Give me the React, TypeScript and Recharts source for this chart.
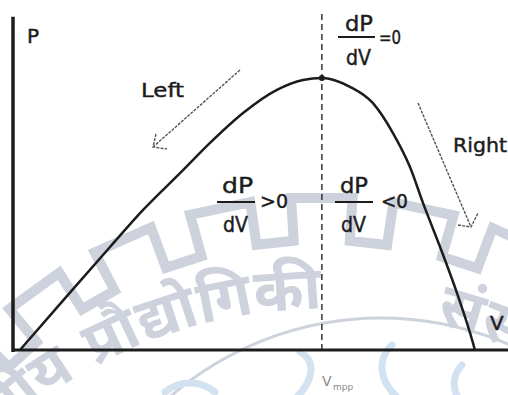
import React from "react";
import {
  LineChart,
  Line,
  XAxis,
  YAxis,
  ReferenceLine,
  ReferenceDot,
  Customized,
} from "recharts";

// P–V characteristic of a PV array (voltage V, power P in arbitrary units)
const voltage = [0.35, 2.37, 4.9, 6.57, 8.59, 9.95, 11.62, 13.33, 14.65, 15.6, 17.02, 18.18, 19.19, 20.05, 20.71, 21.57, 22.42, 23.23, 23.33];
const power = [0, 13.5, 30.3, 41.2, 52.9, 60.9, 69.7, 76.5, 79.4, 80, 77.4, 72.6, 63.8, 53.8, 43.2, 30.3, 16.8, 2.1, 0];

// maximum power point
const vMpp = 15.6;
const pMpp = 80;

const vDomain = [0, 25];
const pDomain = [0, 100];

const data = voltage.map((v, i) => ({ v, p: power[i] }));

const INK = "#1c1c1c";
const FONT = "'DejaVu Sans', Verdana, sans-serif";
const MARK = "#cdd2dd";
const MARK_BLUE = "#d3e2f1";

function gearPath(cx: number, cy: number, rIn: number, rOut: number, teeth: number, phase: number, duty: number) {
  const step = (2 * Math.PI) / teeth;
  let d = "";
  for (let i = 0; i < teeth; i++) {
    const a0 = phase + i * step;
    const a1 = a0 + step * duty;
    const a2 = a0 + step;
    const p = (r: number, a: number) => `${(cx + r * Math.sin(a)).toFixed(1)},${(cy - r * Math.cos(a)).toFixed(1)}`;
    d += `${i === 0 ? "M" : "L"}${p(rIn, a0)} L${p(rOut, a0)} L${p(rOut, a1)} L${p(rIn, a1)} L${p(rIn, a2)} `;
  }
  return d + "Z";
}

// institute emblem printed faintly behind the diagram
function Emblem() {
  const cx = 321;
  const cy = 783;
  const r = 474;
  const arc = `M${cx - r},${cy} A${r},${r} 0 0 1 ${cx + r},${cy}`;
  const at = (deg: number) => ((deg + 90) * Math.PI * r) / 180;
  const font = "'Noto Sans Devanagari', 'Lohit Devanagari', 'FreeSans', sans-serif";
  return (
    <g style={{ pointerEvents: "none" }}>
      <defs>
        <path id="emblemArc" d={arc} />
      </defs>
      <path d={gearPath(321, 687, 447, 490, 30, (-3.5 * Math.PI) / 180, 0.6)} fill="none" stroke={MARK} strokeWidth={10} />
      <circle cx={381} cy={640} r={322} fill="none" stroke={MARK} strokeWidth={3} />
      <g fill="none" stroke={MARK_BLUE} strokeWidth={7} strokeLinecap="round">
        <path d="M300,352 C318,362 312,382 296,398" />
        <path d="M392,345 C376,360 380,382 398,398" />
        <path d="M462,365 C452,375 452,390 460,400" />
        <path d="M165,392 C180,380 200,380 215,392" />
      </g>
      <g fontSize={60} fill={MARK} fontFamily={font} fontWeight={700}>
        <text>
          <textPath href="#emblemArc" startOffset={at(-31)} textAnchor="end">राष्ट्रीय</textPath>
        </text>
        <text>
          <textPath href="#emblemArc" startOffset={at(-28.5)}>प्रौद्योगिकी</textPath>
        </text>
        <text>
          <textPath href="#emblemArc" startOffset={at(13.9)}>संस्थान</textPath>
        </text>
      </g>
    </g>
  );
}

function Frac({ x, y, num, den, rel, numLen, denLen, relLen, barFrom, barTo, barDy, denDy, relX, relY }: any) {
  return (
    <g fontFamily={FONT} fill={INK} stroke={INK} strokeWidth={0.45}>
      <text x={x} y={y} fontSize={22} textLength={numLen} lengthAdjust="spacingAndGlyphs">{num}</text>
      <line x1={barFrom} x2={barTo} y1={y + barDy} y2={y + barDy} strokeWidth={1.8} />
      <text x={x + 1} y={y + denDy} fontSize={22} textLength={denLen} lengthAdjust="spacingAndGlyphs">{den}</text>
      <text x={relX} y={relY} fontSize={19} textLength={relLen} lengthAdjust="spacingAndGlyphs">{rel}</text>
    </g>
  );
}

function Annotations() {
  const arrow = { stroke: "#555", strokeWidth: 1.4, strokeDasharray: "3 1.2", fill: "none" };
  const txt = { fontFamily: FONT, fill: INK, stroke: INK, strokeWidth: 0.45 };
  return (
    <g>
      <text x={27} y={43} fontSize={20} {...txt}>P</text>
      <text x={141} y={97} fontSize={20} {...txt} textLength={43} lengthAdjust="spacingAndGlyphs">Left</text>
      <text x={453} y={152} fontSize={20} {...txt} textLength={54} lengthAdjust="spacingAndGlyphs">Right</text>
      <text x={490} y={330} fontSize={20} {...txt}>V</text>
      <text x={322} y={386} fontSize={14} fontFamily={FONT} fill="#8a8a8a">V</text>
      <text x={333} y={390} fontSize={9} fontFamily={FONT} fill="#8a8a8a">mpp</text>

      <Frac x={222} y={193} num="dP" den="dV" rel=">0" numLen={31} denLen={25} relLen={28} barFrom={217} barTo={255} barDy={9} denDy={39} relX={260} relY={208} />
      <Frac x={340} y={193} num="dP" den="dV" rel="<0" numLen={28} denLen={25} relLen={27} barFrom={335} barTo={373} barDy={9} denDy={39} relX={381} relY={208} />
      <Frac x={345} y={31} num="dP" den="dV" rel="=0" numLen={28} denLen={25} relLen={22} barFrom={338} barTo={375} barDy={6} denDy={34} relX={379} relY={44} />

      {/* direction of perturbation */}
      <path d="M240,70 L153,147 M156,134 L153,147 L167,149" {...arrow} />
      <path d="M418,103 L471,227 M458,225 L471,227 L478,213" {...arrow} />
    </g>
  );
}

export default function App() {
  return (
    <div style={{ position: "absolute", left: 0, top: 0, background: "#fff" }}>
      <LineChart width={508} height={395} data={data} margin={{ top: 10, right: 0, bottom: 45, left: 13 }}>
        <Customized component={Emblem} />
        <XAxis type="number" dataKey="v" domain={vDomain} hide />
        <YAxis type="number" domain={pDomain} hide />
        <ReferenceLine
          segment={[{ x: vMpp, y: 0 }, { x: vMpp, y: 100 }]}
          stroke="#333"
          strokeWidth={1.5}
          strokeDasharray="6 4"
          ifOverflow="visible"
        />
        <ReferenceLine y={0} stroke={INK} strokeWidth={3} ifOverflow="visible" />
        <ReferenceLine
          segment={[{ x: 0, y: -0.6 }, { x: 0, y: 98 }]}
          stroke={INK}
          strokeWidth={3.5}
          ifOverflow="visible"
        />
        <Line
          type="monotone"
          dataKey="p"
          stroke={INK}
          strokeWidth={2.5}
          dot={false}
          isAnimationActive={false}
        />
        <ReferenceDot x={vMpp} y={pMpp} r={3} fill={INK} stroke="none" ifOverflow="visible" />
        <Customized component={Annotations} />
      </LineChart>
    </div>
  );
}
